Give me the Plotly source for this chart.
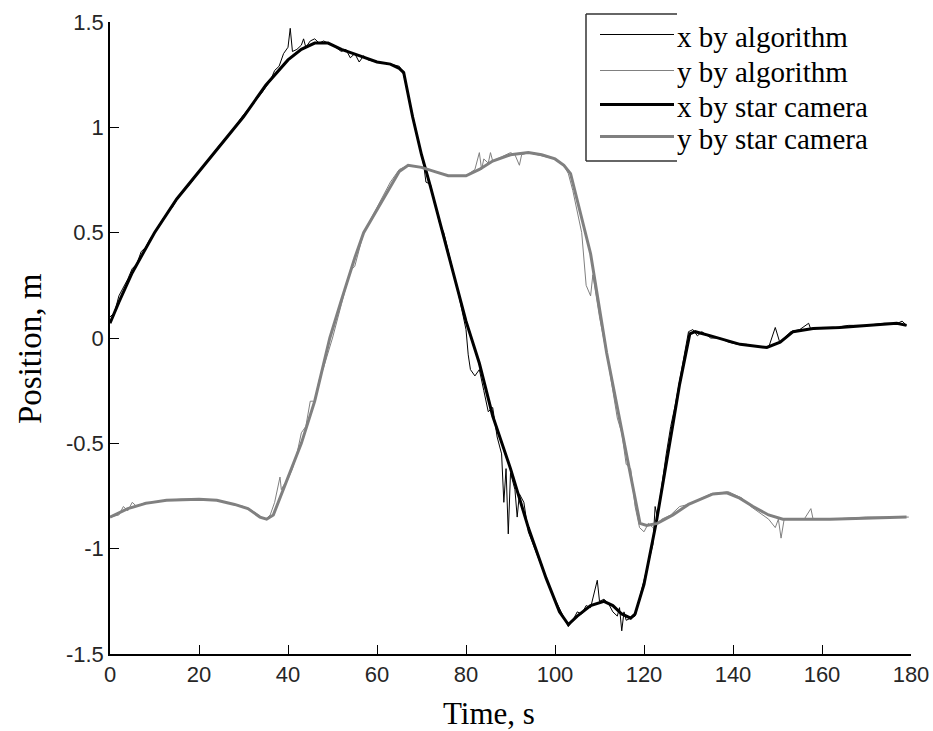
import plotly.graph_objects as go

# ---------------- data ----------------
t_cam = [0, 2, 5, 10, 15, 20, 25, 30, 35, 40, 43, 46, 49, 52, 56, 60, 63, 65, 66, 68,
         70, 72, 75, 78, 80, 83, 86, 90, 94, 98, 101, 103, 105, 108, 111, 113, 115, 117,
         118, 120, 122.8, 126.5, 128, 130.3, 131.5, 135, 141.6, 147.6, 150.6, 153.5, 158,
         164, 170, 176.8, 179]
x_cam = [0.07, 0.17, 0.31, 0.5, 0.66, 0.79, 0.92, 1.05, 1.2, 1.32, 1.37, 1.40, 1.40, 1.37,
         1.34, 1.31, 1.30, 1.28, 1.26, 1.05, 0.87, 0.72, 0.48, 0.24, 0.08, -0.12, -0.37,
         -0.62, -0.9, -1.14, -1.3, -1.36, -1.32, -1.27, -1.25, -1.27, -1.31, -1.33, -1.31,
         -1.17, -0.87, -0.41, -0.22, 0.02, 0.03, 0.01, -0.03, -0.045, -0.02, 0.03, 0.045,
         0.05, 0.06, 0.07, 0.06]

t_ycam = [0, 4, 8, 12.7, 20, 24, 28, 31, 33.7, 35.2, 36.7, 38, 39.7, 43, 46, 49.4, 52, 55,
          57, 60, 63, 65, 67, 70, 73, 76, 80, 83, 86, 90, 94, 97, 100, 102, 103.5, 105.6,
          108, 111.6, 115.3, 117.5, 119.1, 120.6, 123, 126.5, 130, 135.5, 138.6, 141.5,
          144.5, 148, 151.2, 161.8, 170, 179]
y_cam = [-0.85, -0.81, -0.785, -0.77, -0.765, -0.77, -0.79, -0.81, -0.85, -0.86, -0.84,
         -0.77, -0.68, -0.5, -0.3, 0.0, 0.18, 0.38, 0.5, 0.61, 0.72, 0.79, 0.82, 0.81, 0.79,
         0.77, 0.77, 0.8, 0.84, 0.87, 0.88, 0.87, 0.85, 0.82, 0.78, 0.6, 0.4, -0.07, -0.47,
         -0.72, -0.88, -0.89, -0.88, -0.84, -0.79, -0.74, -0.735, -0.76, -0.8, -0.84, -0.86,
         -0.86, -0.855, -0.85]

t_xalg = [0, 1, 2, 3, 4, 5, 6, 7, 8, 9, 10, 12, 14, 16, 18, 20, 22, 24, 26, 28, 30, 32, 34,
          36, 37, 38, 39, 40, 40.5, 41, 42, 43, 43.5, 44, 45, 46, 47, 48, 50, 52, 53, 54, 55,
          56, 57, 58, 60, 63, 65, 66, 68, 70, 70.5, 71, 72, 74, 75, 78, 80, 80.5, 81, 82, 83,
          84, 85, 86, 87, 88, 88.5, 89, 89.5, 90, 91, 91.5, 92, 93, 94, 96, 98, 100, 102,
          103, 104, 105, 106, 107, 108, 109, 109.5, 110, 111, 112, 113, 114, 114.5, 115,
          115.5, 116, 117, 118, 120, 122, 122.5, 123, 125, 126, 127, 128, 129, 130, 131,
          132, 133, 135, 137, 139, 141, 143, 145, 147, 148, 149.5, 150.5, 151, 153, 155,
          157, 157.5, 160, 163, 166, 170, 174, 177, 178, 179]
x_alg = [0.10, 0.12, 0.2, 0.24, 0.28, 0.33, 0.35, 0.41, 0.43, 0.47, 0.5, 0.57, 0.62, 0.69,
         0.73, 0.79, 0.84, 0.9, 0.95, 1.0, 1.06, 1.11, 1.16, 1.22, 1.27, 1.29, 1.35, 1.38,
         1.47, 1.36, 1.37, 1.39, 1.42, 1.38, 1.41, 1.42, 1.4, 1.41, 1.39, 1.36, 1.37, 1.33,
         1.35, 1.31, 1.34, 1.32, 1.31, 1.3, 1.29, 1.25, 1.06, 0.88, 0.82, 0.74, 0.73, 0.55,
         0.5, 0.24, 0.04, -0.08, -0.15, -0.18, -0.15, -0.25, -0.35, -0.33, -0.47, -0.55,
         -0.78, -0.62, -0.93, -0.64, -0.72, -0.85, -0.74, -0.78, -0.92, -1.03, -1.14, -1.24,
         -1.33, -1.37, -1.34, -1.3, -1.31, -1.27, -1.28, -1.2, -1.15, -1.25, -1.24, -1.26,
         -1.3, -1.32, -1.28, -1.39, -1.3, -1.34, -1.33, -1.32, -1.15, -0.98, -0.8, -0.85,
         -0.55, -0.42, -0.32, -0.2, -0.08, 0.03, 0.04, 0.01, 0.03, 0.0, 0.0, -0.02, -0.03,
         -0.03, -0.04, -0.045, -0.045, 0.05, -0.02, -0.01, 0.03, 0.04, 0.07, 0.04, 0.05,
         0.05, 0.06, 0.06, 0.07, 0.07, 0.08, 0.06]

t_yalg = [0, 2, 3, 4, 5, 6, 8, 10, 13, 16, 20, 24, 26, 28, 30, 32, 34, 35, 36, 37, 38.2,
          38.5, 39, 40, 41, 42, 43, 44, 45, 46, 47, 48, 50, 52, 54, 55, 57, 59, 61, 63, 65,
          67, 70, 73, 76, 80, 82, 83, 83.5, 84, 85, 85.5, 86, 88, 90, 91, 92, 92.5, 94, 96,
          98, 100, 102, 103, 104, 105, 106, 107, 108, 108.5, 110, 112, 114, 115, 116, 117,
          118, 119, 120, 121, 122, 124, 126, 128, 130, 132, 135, 139, 142, 144, 146, 148,
          149.5, 150.2, 150.8, 151.5, 154, 156, 157.5, 158, 162, 166, 170, 175, 178, 179.5]
y_alg = [-0.85, -0.84, -0.8, -0.82, -0.78, -0.8, -0.78, -0.78, -0.77, -0.765, -0.765,
         -0.77, -0.78, -0.79, -0.8, -0.82, -0.85, -0.86, -0.84, -0.78, -0.66, -0.72, -0.7,
         -0.67, -0.62, -0.55, -0.45, -0.42, -0.3, -0.3, -0.2, -0.14, 0.0, 0.16, 0.32, 0.34,
         0.5, 0.58, 0.66, 0.74, 0.8, 0.82, 0.81, 0.79, 0.77, 0.77, 0.8, 0.88, 0.8, 0.85,
         0.83, 0.88, 0.84, 0.86, 0.88, 0.87, 0.82, 0.87, 0.88, 0.87, 0.86, 0.85, 0.82, 0.78,
         0.7, 0.6, 0.5, 0.25, 0.2, 0.3, 0.1, -0.12, -0.38, -0.45, -0.6, -0.62, -0.8, -0.9,
         -0.92, -0.88, -0.9, -0.86, -0.84, -0.8, -0.79, -0.77, -0.74, -0.73, -0.76, -0.8,
         -0.83, -0.86, -0.9, -0.86, -0.95, -0.86, -0.86, -0.86, -0.81, -0.86, -0.86, -0.855,
         -0.85, -0.85, -0.85, -0.85]

x_ticks = [0, 20, 40, 60, 80, 100, 120, 140, 160, 180]
y_ticks = [-1.5, -1, -0.5, 0, 0.5, 1, 1.5]
y_tick_text = ["-1.5", "-1", "-0.5", "0", "0.5", "1", "1.5"]

series_names = ["x by algorithm", "y by algorithm", "x by star camera", "y by star camera"]
series_colors = ["#000000", "#808080", "#000000", "#808080"]
series_widths = [1, 1, 3, 3]

# ---------------- layout geometry (window pixels; body margin removed) ----------------
W, H = 933, 731
# plot area: x 110..911, y 22..654
L, T = 110, 22
R = W - 911
B = H - 654
PW, PH = W - L - R, H - T - B


def px(x):
    """window pixel x -> paper x"""
    return (x - L) / PW


def py(y):
    """window pixel y -> paper y"""
    return (H - B - y) / PH


fig = go.Figure()
series = [(t_xalg, x_alg), (t_yalg, y_alg), (t_cam, x_cam), (t_ycam, y_cam)]
for (tt, vv), name, col, w in zip(series, series_names, series_colors, series_widths):
    fig.add_trace(go.Scatter(x=tt, y=vv, mode="lines", name=name,
                             line=dict(color=col, width=w), showlegend=False))

serif = "Liberation Serif, Times New Roman, serif"
sans = "Liberation Sans, Arial, sans-serif"

fig.update_layout(
    width=W, height=H,
    margin=dict(l=L, r=R, t=T, b=B, pad=0),
    paper_bgcolor="white", plot_bgcolor="white",
    xaxis=dict(range=[0, 180], tickvals=x_ticks, ticks="inside", ticklen=9,
               tickcolor="#000", showline=True, linecolor="#000", linewidth=1.5,
               showgrid=False, zeroline=False, mirror=False, automargin=False,
               ticklabeloverflow="allow",
               tickfont=dict(family=sans, size=22, color="#262626")),
    yaxis=dict(range=[-1.5, 1.5], tickvals=y_ticks, ticktext=y_tick_text,
               ticks="inside", ticklen=9, tickcolor="#000", showline=True,
               linecolor="#000", linewidth=1.5, showgrid=False, zeroline=False,
               mirror=False, automargin=False, ticklabeloverflow="allow",
               tickfont=dict(family=sans, size=22, color="#262626")),
)

annotations = [
    dict(text="Time, s", x=px(489), y=py(713), xref="paper", yref="paper",
         showarrow=False, xanchor="center", yanchor="middle",
         font=dict(family=serif, size=31, color="#000")),
    dict(text="Position, m", x=px(30), y=py(349), xref="paper", yref="paper",
         showarrow=False, xanchor="center", yanchor="middle", textangle=-90,
         font=dict(family=serif, size=33, color="#000")),
]

# manual legend (box open on the right, like the reference)
box_l, box_r, box_t, box_b = 586, 677, 14, 161
shapes = [
    dict(type="line", xref="paper", yref="paper", x0=px(box_l), x1=px(box_r),
         y0=py(box_t), y1=py(box_t), line=dict(color="#333", width=1.5)),
    dict(type="line", xref="paper", yref="paper", x0=px(box_l), x1=px(box_l),
         y0=py(box_t), y1=py(box_b), line=dict(color="#333", width=1.5)),
    dict(type="line", xref="paper", yref="paper", x0=px(box_l), x1=px(box_r),
         y0=py(box_b), y1=py(box_b), line=dict(color="#333", width=1.5)),
]
leg_y = [34.5, 70.5, 104.5, 136.5]
for yy, name, col, w in zip(leg_y, series_names, series_colors, series_widths):
    shapes.append(dict(type="line", xref="paper", yref="paper", x0=px(600), x1=px(674),
                       y0=py(yy), y1=py(yy), line=dict(color=col, width=w)))
    annotations.append(dict(text=name, x=px(675), y=py(yy + 2), xref="paper",
                            yref="paper", showarrow=False, xanchor="left",
                            yanchor="middle",
                            font=dict(family=serif, size=29, color="#000")))

fig.update_layout(shapes=shapes, annotations=annotations)
fig.write_html("out.html",
               config={"displayModeBar": False},
               post_script="document.body.style.margin='0px';"
                           "document.body.style.overflow='hidden';")
